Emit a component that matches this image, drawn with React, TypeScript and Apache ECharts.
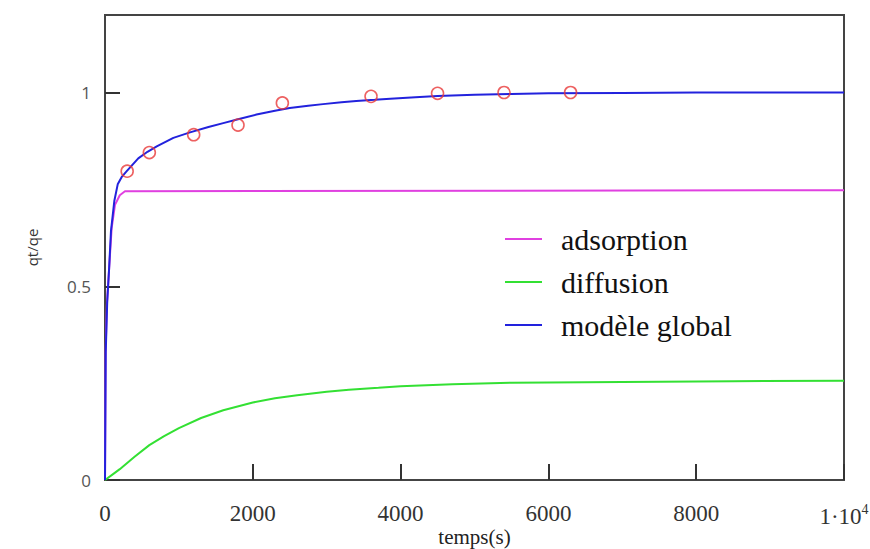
import React, { useEffect, useRef } from "react";
import * as echarts from "echarts";

// adsorption curve (magenta)
const adsorptionT = [0, 8, 25, 54, 90, 135, 200, 270, 10000];
const adsorptionQ = [0, 0.33, 0.45, 0.54, 0.65, 0.71, 0.735, 0.745, 0.748];

// diffusion curve (green)
const diffusionT = [0, 100, 200, 400, 600, 800, 1000, 1300, 1600, 2000, 2300, 2600, 3000, 3300, 3700, 4000, 4700, 5500, 7000, 8500, 10000];
const diffusionQ = [0, 0.014, 0.028, 0.06, 0.09, 0.113, 0.134, 0.16, 0.18, 0.2, 0.211, 0.219, 0.228, 0.233, 0.238, 0.242, 0.247, 0.251, 0.253, 0.255, 0.256];

// global model (blue)
const globalT = [0, 10, 30, 54, 81, 126, 172, 230, 294, 450, 575, 700, 925, 1150, 1400, 1600, 1800, 2050, 2300, 2500, 2750, 2950, 3200, 3400, 3650, 3860, 4200, 4500, 5000, 5500, 6000, 7000, 8000, 10000];
const globalQ = [0, 0.33, 0.46, 0.54, 0.643, 0.72, 0.763, 0.783, 0.797, 0.83, 0.847, 0.861, 0.883, 0.897, 0.911, 0.921, 0.931, 0.943, 0.953, 0.96, 0.966, 0.97, 0.975, 0.978, 0.981, 0.984, 0.988, 0.991, 0.994, 0.996, 0.998, 0.999, 1.0, 1.0];

// experimental points (red circles)
const expT = [300, 600, 1200, 1800, 2400, 3600, 4500, 5400, 6300];
const expQ = [0.797, 0.845, 0.891, 0.916, 0.973, 0.99, 0.998, 1.0, 1.0];

const yTicks = [0, 0.5, 1];
const seriesNames = ["adsorption", "diffusion", "modèle global"];

const zip = (a: number[], b: number[]) => a.map((v, i) => [v, b[i]]);

export default function App() {
  const ref = useRef<HTMLDivElement>(null);
  useEffect(() => {
    if (!ref.current) return;
    const chart = echarts.init(ref.current, null, { renderer: "svg" });
    const serif = "Liberation Serif";
    chart.setOption({
      animation: false,
      backgroundColor: "#ffffff",
      grid: {
        left: 105,
        right: 26,
        top: 15,
        bottom: 69,
        outerBoundsMode: "none",
        containLabel: false,
        show: true,
        borderColor: "#444",
        borderWidth: 2,
      },
      legend: {
        data: seriesNames,
        orient: "vertical",
        left: 505,
        top: 224,
        padding: 0,
        icon: "rect",
        itemWidth: 37,
        itemHeight: 2,
        itemGap: 13,
        textStyle: {
          fontFamily: serif,
          fontSize: 30,
          lineHeight: 30,
          color: "#111",
          padding: [0, 0, 0, 14],
        },
      },
      xAxis: {
        type: "value",
        min: 0,
        max: 10000,
        interval: 2000,
        name: "temps(s)",
        nameLocation: "middle",
        nameGap: 46,
        nameMoveOverlap: false,
        nameTextStyle: { fontFamily: serif, fontSize: 21, color: "#222", verticalAlign: "top" },
        axisLine: { show: true, lineStyle: { color: "#444", width: 2 } },
        axisTick: { show: true, inside: true, length: 16, lineStyle: { color: "#333", width: 2 } },
        splitLine: { show: false },
        axisLabel: {
          fontFamily: serif,
          fontSize: 23,
          color: "#333",
          margin: 22,
          formatter: (v: number) => (v === 10000 ? "1·10{sup|4}" : String(v)),
          rich: {
            sup: { fontFamily: serif, fontSize: 14, color: "#333", padding: [0, 0, 14, 0] },
          },
        },
      },
      yAxis: {
        type: "value",
        min: 0,
        max: 1.2,
        name: "qt/qe",
        nameLocation: "middle",
        nameGap: 66,
        nameTextStyle: { fontFamily: "Open Sans", fontSize: 15, color: "#333" },
        axisLine: { show: true, lineStyle: { color: "#444", width: 2 } },
        axisTick: { show: true, inside: true, length: 15, customValues: yTicks, lineStyle: { color: "#333", width: 2 } },
        splitLine: { show: false },
        axisLabel: {
          customValues: yTicks,
          fontFamily: "Open Sans",
          fontSize: 17,
          color: "#555",
          margin: 14,
          padding: [8, 0, 0, 0],
          formatter: (v: number) => String(v),
        },
      },
      series: [
        {
          name: "adsorption",
          type: "line",
          data: zip(adsorptionT, adsorptionQ),
          showSymbol: false,
          lineStyle: { color: "#e040e0", width: 2 },
          itemStyle: { color: "#e040e0" },
        },
        {
          name: "diffusion",
          type: "line",
          data: zip(diffusionT, diffusionQ),
          showSymbol: false,
          lineStyle: { color: "#33e033", width: 2 },
          itemStyle: { color: "#33e033" },
        },
        {
          name: "modèle global",
          type: "line",
          data: zip(globalT, globalQ),
          showSymbol: false,
          lineStyle: { color: "#2222dd", width: 2 },
          itemStyle: { color: "#2222dd" },
          z: 3,
        },
        {
          name: "exp",
          type: "scatter",
          data: zip(expT, expQ),
          symbol: "circle",
          symbolSize: 12,
          itemStyle: { color: "rgba(0,0,0,0)", borderColor: "#e83a3a", borderWidth: 1.6 },
          z: 4,
        },
      ],
    });
    return () => chart.dispose();
  }, []);
  return (
    <div
      ref={ref}
      style={{ position: "fixed", left: 0, top: 0, width: 870, height: 549, background: "#fff" }}
    />
  );
}
